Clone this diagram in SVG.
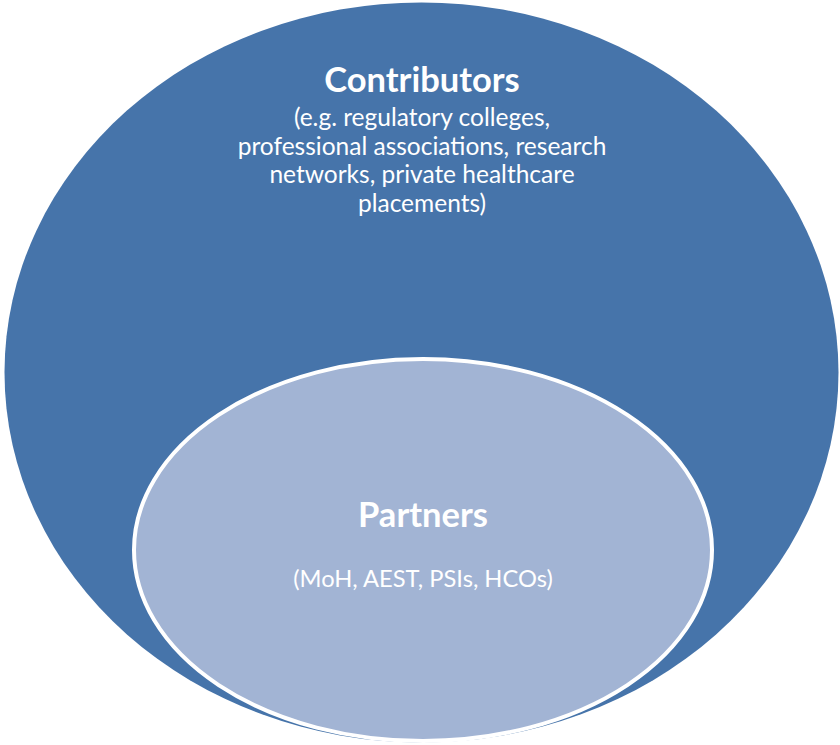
<svg xmlns="http://www.w3.org/2000/svg" width="840" height="745" viewBox="0 0 840 745">
<style>
.t{font-family:Lato,"Open Sans","Liberation Sans",sans-serif;fill:#ffffff;text-anchor:middle}
.h{font-weight:bold;font-size:34.5px}
.s{font-size:24.5px}
.p{font-size:23.7px}
</style>
<rect width="840" height="745" fill="#ffffff"/>
<g id="contributors">
<ellipse cx="421.5" cy="372.5" rx="417" ry="370" fill="#4674aa"/>
<text class="t h" x="422" y="92">Contributors</text>
<text class="t s" x="422" y="126">(e.g. regulatory colleges,</text>
<text class="t s" x="422" y="155">professional associations, research</text>
<text class="t s" x="422" y="183">networks, private healthcare</text>
<text class="t s" x="422" y="212">placements)</text>
</g>
<g id="partners">
<ellipse cx="423" cy="550" rx="289" ry="191" fill="#a2b4d4" stroke="#ffffff" stroke-width="4"/>
<text class="t h" x="423" y="527">Partners</text>
<text class="t p" x="423" y="587">(MoH, AEST, PSIs, HCOs)</text>
</g>
<g id="connectors"/>
</svg>
